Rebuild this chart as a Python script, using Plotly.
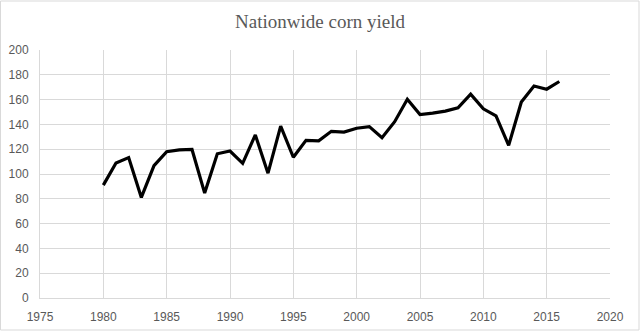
import plotly.graph_objects as go

years = list(range(1980, 2017))
yield_bu = [91.0, 108.9, 113.2, 81.1, 106.7, 118.0, 119.4, 119.8, 84.6, 116.3,
            118.5, 108.6, 131.5, 100.7, 138.6, 113.5, 127.1, 126.7, 134.4, 133.8,
            136.9, 138.2, 129.3, 142.2, 160.3, 147.9, 149.1, 150.7, 153.3, 164.4,
            152.6, 146.8, 123.1, 158.1, 171.0, 168.4, 174.6]
title_text = "Nationwide corn yield"

fig = go.Figure()
fig.add_trace(go.Scatter(x=years, y=yield_bu, mode="lines",
                         line=dict(color="black", width=3.2), hoverinfo="x+y"))

tick_font = dict(family="Liberation Sans", size=12, color="#595959")
fig.update_layout(
    width=640, height=331,
    paper_bgcolor="white", plot_bgcolor="white",
    margin=dict(l=40, r=30, t=50, b=33, autoexpand=False),
    showlegend=False,
    title=dict(text=title_text, x=0.5, xanchor="center", y=0.935, yanchor="middle",
               font=dict(family="Liberation Serif", size=19, color="#595959")),
    xaxis=dict(range=[1975, 2020], tickmode="linear", tick0=1975, dtick=5,
               showgrid=True, gridcolor="#d9d9d9", gridwidth=1,
               showline=True, linecolor="#d9d9d9", zeroline=False,
               ticks="outside", ticklen=8, tickcolor="rgba(0,0,0,0)",
               automargin=False, tickfont=tick_font),
    yaxis=dict(range=[0, 200], tickmode="linear", tick0=0, dtick=20,
               showgrid=True, gridcolor="#d9d9d9", gridwidth=1,
               showline=True, linecolor="#d9d9d9", zeroline=False,
               ticks="outside", ticklen=8, tickcolor="rgba(0,0,0,0)",
               automargin=False, tickfont=tick_font),
    shapes=[dict(type="rect", xref="paper", yref="paper", x0=-39.5/570, x1=1+29/570,
                 y0=-32/248, y1=1+49/248, line=dict(color="#d9d9d9", width=1))],
)

fig.write_html("out.html", config={"displayModeBar": False},
               post_script="document.body.style.margin='0';document.body.style.overflow='hidden';")
